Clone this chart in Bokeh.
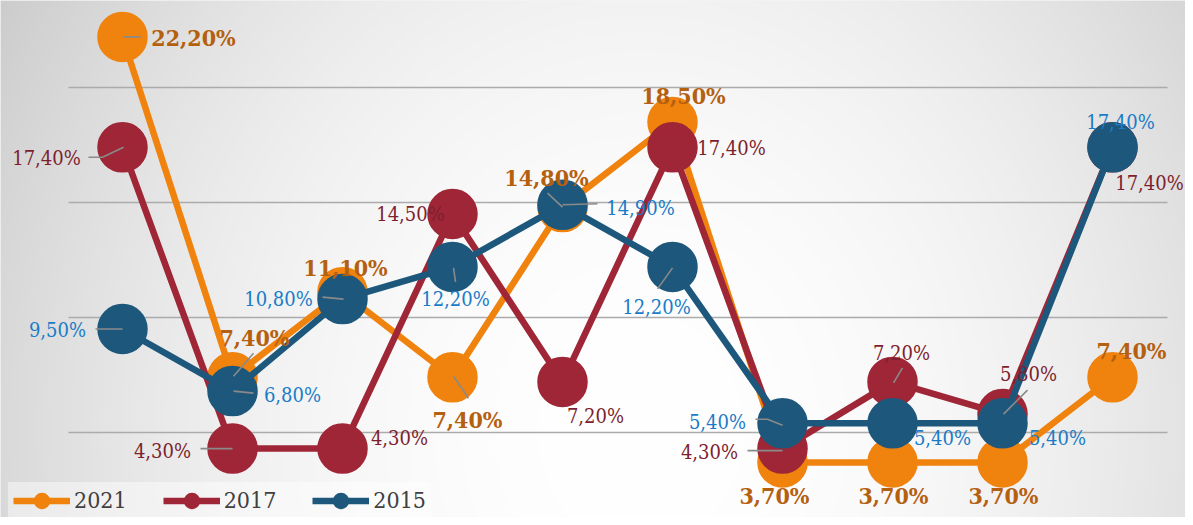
import numpy as np
from bokeh.plotting import figure
from bokeh.models import ColumnDataSource, FixedTicker, Grid, Legend
from bokeh.core.properties import value
from bokeh.embed import file_html
from bokeh.resources import INLINE

# ---------------- data ----------------
positions = list(range(10))
years = ["2021", "2017", "2015"]
v2021 = [22.2, 7.4, 11.1, 7.4, 14.8, 18.5, 3.7, 3.7, 3.7, 7.4]
v2017 = [17.4, 4.3, 4.3, 14.5, 7.2, 17.4, 4.3, 7.2, 5.8, 17.4]
v2015 = [9.5, 6.8, 10.8, 12.2, 14.9, 12.2, 5.4, 5.4, 5.4, 17.4]
grid_ticks = [5, 10, 15, 20]

# ---------------- styling ----------------
W, H = 1185, 517
PX_X, PX_Y = 110.0, 23.0
X_START = -122.0 / PX_X
X_END = X_START + W / PX_X
Y_END = 547.0 / PX_Y
Y_START = Y_END - H / PX_Y

series_colors = ["#f0820e", "#9f2636", "#1d587c"]
label_colors = ["#b5600f", "#7d1f2e", "#1a7cc8"]
label_styles = ["bold", "normal", "normal"]
label_sizes = ["23px", "20px", "20px"]
FONT = "DejaVu Serif Condensed"

# label offsets (px, screen: +y down)
off2021 = [(71, 1), (22, -40), (3, -25), (15, 42), (-16, -30), (11, -27), (-8, 33), (1, 33), (1, 33), (19, -27)]
off2017 = [(-76, 11), (-70, 2), (57, -11), (-42, 0), (33, 34), (59, 1), (-73, 3), (9, -29), (26, -40), (37, 36)]
off2015 = [(-65, 1), (60, 4), (-64, 0), (3, 32), (78, 3), (-16, 40), (-65, -1), (50, 15), (55, 15), (8, -25)]

# leader lines (px offsets from point)
lead2021 = {0: [(1, 0), (18, 0)], 1: [(1, -1), (21, -24)], 3: [(1, -1), (16, 21)], 4: [(0, 0), (-15, -14)]}
lead2017 = {0: [(-34, 10), (-20, 10), (1, 0)], 1: [(-32, 0), (0, 0)], 6: [(-35, 2), (0, 2)],
            7: [(1, 1), (10, -14)], 8: [(1, 0), (25, -24)]}
lead2015 = {0: [(-27, 0), (0, 0)], 1: [(1, 0), (21, 2)], 2: [(-20, -2), (1, 0)], 3: [(1, 1), (3, 15)],
            4: [(0, 0), (35, -1)], 5: [(0, 1), (-15, 22)], 6: [(-27, -4), (-15, -4), (0, 2)]}

p = figure(width=W, height=H, x_range=(X_START, X_END), y_range=(Y_START, Y_END),
           output_backend="svg", toolbar_location=None, min_border=0)
p.xaxis.visible = False
p.yaxis.visible = False
p.xgrid.visible = False
p.outline_line_color = None
p.background_fill_color = "#ececec"
p.border_fill_color = "#ececec"

# background radial gradient
H2, W2 = 259, 593
rows = np.arange(H2)
cols = np.arange(W2)
sy = H - (rows + 0.5) * H / H2
sx = (cols + 0.5) * W / W2
XX, YY = np.meshgrid(sx, sy)
t2 = ((XX - 640) / 640.0) ** 2 + ((YY - 430) / 740.0) ** 2
g = np.clip(255 - 38 * t2, 203, 255).astype(np.uint32)
img = (255 << 24) | (g << 16) | (g << 8) | g
p.image_rgba(image=[img.astype(np.uint32)], x=X_START, y=Y_START, dw=X_END - X_START, dh=Y_END - Y_START,
             level="image")

p.ygrid.ticker = FixedTicker(ticks=grid_ticks)
p.ygrid.grid_line_color = "#ababab"
p.ygrid.grid_line_width = 1.5
if "cross_bounds" in Grid.properties():
    p.ygrid.cross_bounds = (-54.0 / PX_X, 9 + 55.0 / PX_X)

all_vals = [v2021, v2017, v2015]
all_offs = [off2021, off2017, off2015]
all_leads = [lead2021, lead2017, lead2015]

items = []
for k, yr in enumerate(years):
    src = ColumnDataSource(dict(x=positions, y=all_vals[k]))
    r1 = p.line("x", "y", source=src, line_color=series_colors[k], line_width=6.5)
    r2 = p.scatter("x", "y", source=src, size=44, marker="circle",
                   fill_color=series_colors[k], line_color=series_colors[k], line_width=6.5)
    items.append((yr, [r1, r2]))

# leaders
for k in range(3):
    xs, ys = [], []
    for i, pts in all_leads[k].items():
        xs.append([positions[i] + dx / PX_X for dx, dy in pts])
        ys.append([all_vals[k][i] - dy / PX_Y for dx, dy in pts])
    p.multi_line(xs, ys, line_color="#8a8a8a", line_width=1.6)

# labels
for k in range(3):
    vals = all_vals[k]
    src = ColumnDataSource(dict(
        x=positions, y=vals,
        t=[f"{v:.2f}".replace(".", ",") + "%" for v in vals],
        dx=[o[0] for o in all_offs[k]], dy=[o[1] for o in all_offs[k]]))
    p.text("x", "y", text="t", source=src, x_offset="dx", y_offset="dy",
           text_font=value(FONT), text_font_size=value(label_sizes[k]),
           text_font_style=label_styles[k], text_color=label_colors[k],
           text_align="center", text_baseline="middle")

legend = Legend(items=items, orientation="horizontal", location=(8, -1),
                margin=0, padding=5, spacing=36, glyph_width=57, glyph_height=25,
                label_standoff=4, label_text_font=FONT, label_text_font_size="23px",
                label_text_color="#404040", background_fill_color="white",
                background_fill_alpha=0.45, border_line_alpha=0)
p.add_layout(legend)

open("out.html", "w").write(file_html(p, INLINE))
